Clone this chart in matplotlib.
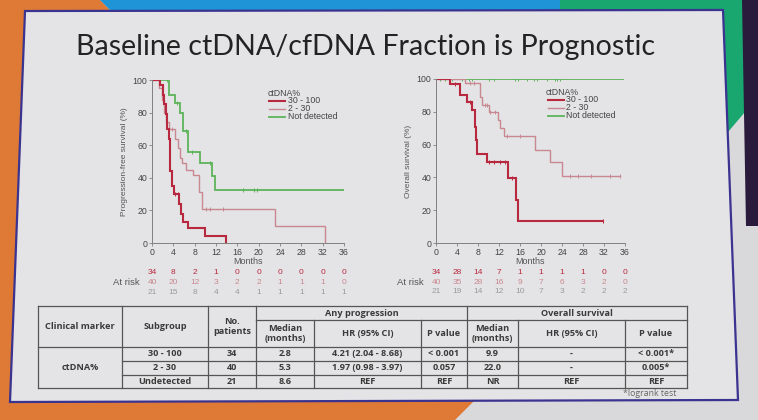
import matplotlib
matplotlib.use("Agg")
import matplotlib.pyplot as plt
from matplotlib.patches import Polygon

# ---------------- data ----------------
title = "Baseline ctDNA/cfDNA Fraction is Prognostic"
groups = ["30 - 100", "2 - 30", "Not detected"]

# progression-free survival, step times (months) and survival (%)
pfs_red_t = [0, 1.5, 2.0, 2.3, 2.6, 2.9, 3.2, 3.4, 3.7, 4.1, 5.1, 5.5, 5.9, 6.8, 9.9, 13.8]
pfs_red_s = [100, 97, 91, 85, 79, 70, 64, 44, 35, 30, 24, 18, 13, 9, 4.5, 0]
pfs_red_cens_t = [4.3, 4.8]
pfs_red_cens_s = [30, 30]
pfs_red_end = 13.8

pfs_pink_t = [0, 1.3, 1.8, 2.3, 2.7, 3.2, 4.4, 4.8, 5.2, 5.7, 6.4, 7.6, 8.9, 9.4, 23.0, 32.4]
pfs_pink_s = [100, 95, 88, 80, 74, 70, 64, 58, 52, 49, 45, 42, 31, 20.6, 10.3, 0]
pfs_pink_cens_t = [3.8, 4.3, 10.1, 10.8, 13.3]
pfs_pink_cens_s = [70, 67, 20.6, 20.6, 20.6]
pfs_pink_end = 32.4

pfs_green_t = [0, 3.2, 4.4, 5.3, 5.9, 6.8, 9.0, 11.2, 11.8]
pfs_green_s = [100, 90.5, 85.7, 80, 68.6, 55.6, 49, 40.8, 32.7]
pfs_green_cens_t = [2.8, 4.7, 6.4, 7.5, 10.9, 17.1, 19.2, 19.6]
pfs_green_cens_s = [100, 85.7, 68.6, 55.6, 49, 32.7, 32.7, 32.7]
pfs_green_end = 36

# overall survival
os_red_t = [0, 2.7, 4.5, 5.9, 6.8, 7.5, 7.7, 7.9, 9.8, 13.8, 15.3, 15.7]
os_red_s = [100, 97, 90.5, 86, 81, 71, 63, 54, 49.5, 39.6, 26, 13.2]
os_red_cens_t = [3.6, 6.5, 10.0, 11.0, 12.2, 13.1, 14.5, 31.9]
os_red_cens_s = [97, 86, 49.5, 49.5, 49.5, 49.5, 39.6, 13.2]
os_red_end = 31.9

os_pink_t = [0, 5.6, 8.4, 8.7, 10.0, 11.9, 12.2, 12.9, 18.9, 21.7, 24.0]
os_pink_s = [100, 97.5, 89, 84, 80, 75, 70, 65, 57, 49.5, 41]
os_pink_cens_t = [6.5, 7.2, 9.4, 9.7, 10.3, 11.2, 13.5, 16.0, 25.5, 27.1, 29.6, 33.1, 35.0]
os_pink_cens_s = [97.5, 97.5, 84, 84, 80, 80, 65, 65, 41, 41, 41, 41, 41]
os_pink_end = 35.0

os_green_t = [0]
os_green_s = [100]
os_green_cens_t = [0.8, 1.8, 3.0, 4.9, 6.2, 6.8, 10.0, 11.0, 15.1, 15.7, 17.3, 18.6, 19.2, 21.1, 22.7, 23.0, 23.6]
os_green_cens_s = [100] * 17
os_green_end = 35.7

risk_times = [0, 4, 8, 12, 16, 20, 24, 28, 32, 36]
pfs_risk_red = [34, 8, 2, 1, 0, 0, 0, 0, 0, 0]
pfs_risk_pink = [40, 20, 12, 3, 2, 2, 1, 1, 1, 0]
pfs_risk_grey = [21, 15, 8, 4, 4, 1, 1, 1, 1, 1]
os_risk_red = [34, 28, 14, 7, 1, 1, 1, 1, 0, 0]
os_risk_pink = [40, 35, 28, 16, 9, 7, 6, 3, 2, 0]
os_risk_grey = [21, 19, 14, 12, 10, 7, 3, 2, 2, 2]

# table
subgroups = ["30 - 100", "2 - 30", "Undetected"]
n_patients = ["34", "40", "21"]
pfs_median = ["2.8", "5.3", "8.6"]
pfs_hr = ["4.21 (2.04 - 8.68)", "1.97 (0.98 - 3.97)", "REF"]
pfs_p = ["< 0.001", "0.057", "REF"]
os_median = ["9.9", "22.0", "NR"]
os_hr = ["-", "-", "REF"]
os_p = ["< 0.001*", "0.005*", "REF"]

# ---------------- style ----------------
W, H = 758, 420
RED = "#b8283f"
PINK = "#c98890"
GREEN = "#5cb35a"
GREY_TXT = "#9a9a9a"
SLIDE = "#e4e4e6"
plt.rcParams["font.family"] = ["Liberation Sans", "DejaVu Sans"]

fig = plt.figure(figsize=(W / 100, H / 100), dpi=100)
fig.patch.set_facecolor("#d9d9db")

bg = fig.add_axes([0, 0, 1, 1])
bg.set_xlim(0, W)
bg.set_ylim(H, 0)
bg.axis("off")

# surroundings of the photographed slide
bg.add_patch(Polygon([(0, 0), (0, H), (455, H), (475, 400), (30, 400), (30, 0)], color="#de7a35", lw=0))
bg.add_patch(Polygon([(0, 0), (100, 0), (112, 12), (0, 12)], color="#de7a35", lw=0))
bg.add_patch(Polygon([(100, 0), (560, 0), (560, 12), (112, 12)], color="#1f95d8", lw=0))
bg.add_patch(Polygon([(560, 0), (745, 0), (745, 112), (728, 132), (722, 132), (722, 12), (560, 12)],
                     color="#1aa66f", lw=0))
bg.add_patch(Polygon([(742, 0), (W, 0), (W, 226), (746, 226)], color="#2a1a3c", lw=0))

# slide
bg.add_patch(Polygon([(25, 11), (723, 10), (738, 400), (10, 402)], facecolor=SLIDE,
                     edgecolor="#3b3390", lw=1.6))

bg.text(366, 47, title, ha="center", va="center", fontsize=20.6, color="#232323",
        family=["Lato", "DejaVu Sans"])


def px_rect(x0, y0, x1, y1):
    return [x0 / W, 1 - y1 / H, (x1 - x0) / W, (y1 - y0) / H]


def km(ax, t, s, end, ct, cs, color, lw):
    tt = list(t) + [end]
    ss = list(s) + [s[-1]]
    ax.step(tt, ss, where="post", color=color, lw=lw, solid_joinstyle="miter")
    ax.plot(ct, cs, ls="none", marker="|", ms=3, mew=0.7, color=color)


def setup(ax, ylabel):
    ax.set_xlim(0, 36)
    ax.set_ylim(0, 100)
    ax.patch.set_alpha(0)
    for sp in ["top", "right"]:
        ax.spines[sp].set_visible(False)
    for sp in ["left", "bottom"]:
        ax.spines[sp].set_color("#808080")
        ax.spines[sp].set_linewidth(0.7)
    ax.set_xticks(risk_times)
    ax.set_yticks([0, 20, 40, 60, 80, 100])
    ax.tick_params(length=2, width=0.6, color="#808080", labelsize=6.3, labelcolor="#444444", pad=1.5)
    ax.set_ylabel(ylabel, fontsize=6, color="#555555", labelpad=3)
    ax.text(0.5, -0.115, "Months", transform=ax.transAxes, ha="center", va="center",
            fontsize=6.5, color="#555555")


def at_risk(ax, rows, ys):
    ax.text(-0.065, ys[1], "At risk", transform=ax.transAxes, ha="right",
            va="center", fontsize=6.8, color="#555555")
    for (vals, col), y in zip(rows, ys):
        for t, v in zip(risk_times, vals):
            ax.text(t, y, str(v), transform=ax.get_xaxis_transform(), ha="center",
                    va="center", fontsize=6.0, color=col)


def legend(ax, x, y):
    ax.text(x, y, "ctDNA%", transform=ax.transAxes, fontsize=6.3, color="#444444", va="center")
    for i, (g, c, lw) in enumerate(zip(groups, [RED, PINK, GREEN], [1.5, 1.0, 1.3])):
        yy = y - 0.048 * (i + 1)
        ax.plot([x + 0.01, x + 0.095], [yy, yy], transform=ax.transAxes, color=c, lw=lw)
        ax.text(x + 0.11, yy, g, transform=ax.transAxes, fontsize=6.3, color="#444444", va="center")


ax1 = fig.add_axes(px_rect(152, 80, 344, 243))
setup(ax1, "Progression-free survival (%)")
km(ax1, pfs_green_t, pfs_green_s, pfs_green_end, pfs_green_cens_t, pfs_green_cens_s, GREEN, 1.3)
km(ax1, pfs_pink_t, pfs_pink_s, pfs_pink_end, pfs_pink_cens_t, pfs_pink_cens_s, PINK, 1.0)
km(ax1, pfs_red_t, pfs_red_s, pfs_red_end, pfs_red_cens_t, pfs_red_cens_s, RED, 1.5)
legend(ax1, 0.6, 0.92)
at_risk(ax1, [(pfs_risk_red, RED), (pfs_risk_pink, PINK), (pfs_risk_grey, GREY_TXT)],
        [-0.178, -0.24, -0.302])

ax2 = fig.add_axes(px_rect(436, 79, 625, 243))
setup(ax2, "Overall survival (%)")
km(ax2, os_green_t, os_green_s, os_green_end, os_green_cens_t, os_green_cens_s, GREEN, 1.3)
km(ax2, os_pink_t, os_pink_s, os_pink_end, os_pink_cens_t, os_pink_cens_s, PINK, 1.0)
km(ax2, os_red_t, os_red_s, os_red_end, os_red_cens_t, os_red_cens_s, RED, 1.5)
legend(ax2, 0.58, 0.92)
at_risk(ax2, [(os_risk_red, RED), (os_risk_pink, PINK), (os_risk_grey, GREY_TXT)],
        [-0.178, -0.238, -0.298])

# ---------------- table ----------------
cols = [38, 122, 208, 256, 314, 421, 467, 518, 625, 687]
y_top, y_sub, y_head, y_rows = 306, 320, 347, [361, 375, 388]
lkw = dict(color="#555555", lw=0.9)
bg.plot([cols[0], cols[-1]], [y_top, y_top], **lkw)
bg.plot([cols[3], cols[-1]], [y_sub, y_sub], **lkw)
bg.plot([cols[0], cols[-1]], [y_head, y_head], **lkw)
for y in y_rows[:2]:
    bg.plot([cols[1], cols[-1]], [y, y], **lkw)
bg.plot([cols[0], cols[-1]], [y_rows[2], y_rows[2]], **lkw)
for i, x in enumerate(cols):
    if i in (0, 1, 2, 3, 6, len(cols) - 1):
        bg.plot([x, x], [y_top, y_rows[2]], **lkw)
    else:
        bg.plot([x, x], [y_sub, y_rows[2]], **lkw)

tkw = dict(ha="center", va="center", fontsize=6.6, color="#3a3a3a", fontweight="bold",
           family=["Open Sans", "DejaVu Sans"])
ymid_head = (y_top + y_head) / 2
bg.text((cols[0] + cols[1]) / 2, ymid_head, "Clinical marker", **tkw)
bg.text((cols[1] + cols[2]) / 2, ymid_head, "Subgroup", **tkw)
bg.text((cols[2] + cols[3]) / 2, ymid_head, "No.\npatients", linespacing=1.1, **tkw)
bg.text((cols[3] + cols[6]) / 2, (y_top + y_sub) / 2, "Any progression", **tkw)
bg.text((cols[6] + cols[9]) / 2, (y_top + y_sub) / 2, "Overall survival", **tkw)
ymid_sub = (y_sub + y_head) / 2
for a, b, lab in [(3, 4, "Median\n(months)"), (4, 5, "HR (95% CI)"), (5, 6, "P value"),
                  (6, 7, "Median\n(months)"), (7, 8, "HR (95% CI)"), (8, 9, "P value")]:
    bg.text((cols[a] + cols[b]) / 2, ymid_sub, lab, linespacing=1.1, **tkw)

bg.text((cols[0] + cols[1]) / 2, (y_head + y_rows[2]) / 2, "ctDNA%", **tkw)
row_tops = [y_head] + y_rows[:2]
for r in range(3):
    yc = (row_tops[r] + y_rows[r]) / 2
    vals = [subgroups[r], n_patients[r], pfs_median[r], pfs_hr[r], pfs_p[r],
            os_median[r], os_hr[r], os_p[r]]
    for c, v in enumerate(vals):
        bg.text((cols[c + 1] + cols[c + 2]) / 2, yc, v, **tkw)

bg.text(623, 394, "*logrank test", ha="left", va="center", fontsize=6.3, color="#666666",
        family=["Open Sans", "DejaVu Sans"])

fig.savefig("out.png", dpi=100, facecolor=fig.get_facecolor())
